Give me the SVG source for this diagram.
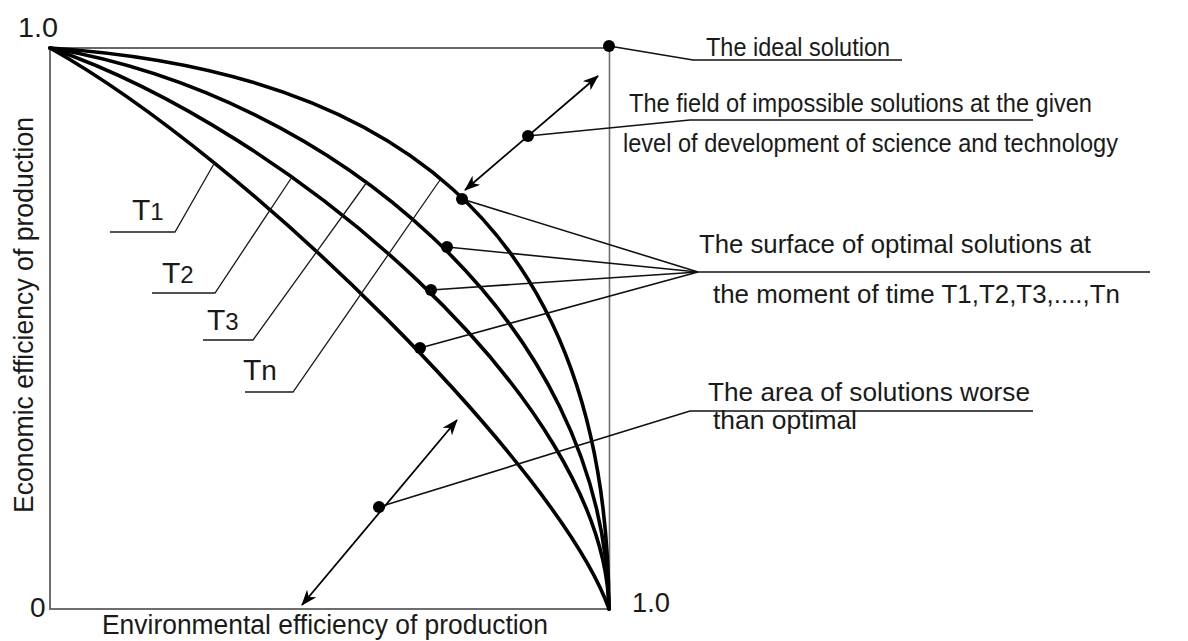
<svg xmlns="http://www.w3.org/2000/svg" width="1188" height="641" viewBox="0 0 1188 641">
  <style>
    text { font-family: "Liberation Sans", Arial, sans-serif; fill: #1a1a1a; }
    .lbl { font-size: 25px; }
    .lbl2 { font-size: 26px; }
    .axis { stroke: #6e6e6e; stroke-width: 2; fill: none; }
    .frame { stroke: #333; stroke-width: 1.3; fill: none; }
    .curve { stroke: #000; stroke-width: 3.6; fill: none; stroke-linecap: round; }
    .thin { stroke: #1a1a1a; stroke-width: 1.3; fill: none; }
    .lead { stroke: #111; stroke-width: 1.6; fill: none; }
    .arrow { stroke: #000; stroke-width: 1.8; fill: none; marker-start: url(#ah); marker-end: url(#ah); }
    .dot { fill: #000; }
    .tbig { font-size: 30px; }
    .tsub { font-size: 24px; }
  </style>
  <defs>
    <marker id="ah" viewBox="0 0 16 12" refX="15" refY="6" markerWidth="16" markerHeight="12" markerUnits="userSpaceOnUse" orient="auto-start-reverse">
      <path d="M0,0 L16,6 L0,12 L4.5,6 Z" fill="#000"/>
    </marker>
  </defs>
  <rect width="1188" height="641" fill="#fff"/>

  <g id="axes">
    <line class="axis" x1="50" y1="48" x2="50" y2="609"/>
    <line class="axis" x1="49" y1="609" x2="610" y2="609"/>
    <line class="frame" x1="50" y1="48" x2="609" y2="48"/>
    <line class="frame" x1="609.5" y1="46" x2="609.5" y2="609" style="stroke:#6e6e6e;stroke-width:1.6"/>
    <text x="18" y="37" style="font-size:27px" textLength="40" lengthAdjust="spacingAndGlyphs">1.0</text>
    <text x="30" y="617" style="font-size:28px">0</text>
    <text x="632" y="612" style="font-size:27px" textLength="38" lengthAdjust="spacingAndGlyphs">1.0</text>
    <text x="102" y="634" style="font-size:27px" textLength="446" lengthAdjust="spacingAndGlyphs">Environmental efficiency of production</text>
    <text transform="translate(33,513) rotate(-90)" style="font-size:27px" textLength="396" lengthAdjust="spacingAndGlyphs">Economic efficiency of production</text>
  </g>

  <g id="curves">
    <path id="curve-t1" class="curve" d="M50,48 C250,160 560,470 609,609"/>
    <path id="curve-t2" class="curve" d="M50,48 C290,130 605,400 609,609"/>
    <path id="curve-t3" class="curve" d="M50,48 C330,95 605,320 609,609"/>
    <path id="curve-tn" class="curve" d="M50,48 C380,70 607,215 609,609"/>
  </g>

  <g id="connectors">
    <polyline class="thin" points="215,162 175,232 110,232"/>
    <polyline class="thin" points="292,177 215,293 152,293"/>
    <polyline class="thin" points="367,182 253,340 203,340"/>
    <polyline class="thin" points="440,180 293,392 245,392"/>
    <polyline class="lead" points="609,46 693,60 902,60"/>
    <polyline class="lead" points="528,136 690,120 1033,120"/>
    <line class="arrow" x1="465" y1="190" x2="598" y2="76"/>
    <line class="lead" x1="462" y1="199" x2="698" y2="272"/>
    <line class="lead" x1="447" y1="247" x2="698" y2="272"/>
    <line class="lead" x1="431" y1="290" x2="698" y2="272"/>
    <line class="lead" x1="420" y1="348" x2="698" y2="272"/>
    <line class="lead" x1="698" y1="272" x2="1150" y2="272"/>
    <polyline class="lead" points="379,507 690,411 1033,411"/>
    <line class="arrow" x1="302" y1="605" x2="457" y2="420"/>
  </g>

  <g id="dots">
    <circle class="dot" cx="609" cy="46" r="6"/>
    <circle class="dot" cx="528" cy="136" r="6"/>
    <circle class="dot" cx="462" cy="199" r="6"/>
    <circle class="dot" cx="447" cy="247" r="6"/>
    <circle class="dot" cx="431" cy="290" r="6"/>
    <circle class="dot" cx="420" cy="348" r="6"/>
    <circle class="dot" cx="379" cy="507" r="6"/>
  </g>

  <g id="label-t1"><text x="132" y="220"><tspan class="tbig">T</tspan><tspan class="tsub">1</tspan></text></g>
  <g id="label-t2"><text x="162" y="283"><tspan class="tbig">T</tspan><tspan class="tsub">2</tspan></text></g>
  <g id="label-t3"><text x="207" y="330"><tspan class="tbig">T</tspan><tspan class="tsub">3</tspan></text></g>
  <g id="label-tn"><text x="243" y="380"><tspan class="tbig">T</tspan><tspan class="tsub" style="font-size:28px">n</tspan></text></g>

  <g id="ideal">
    <text class="lbl" x="706" y="56" textLength="184" lengthAdjust="spacingAndGlyphs">The ideal solution</text>
  </g>
  <g id="impossible">
    <text class="lbl" x="629" y="112" textLength="463" lengthAdjust="spacingAndGlyphs">The field of impossible solutions at the given</text>
    <text class="lbl" x="623" y="152" textLength="495" lengthAdjust="spacingAndGlyphs">level of development of science and technology</text>
  </g>
  <g id="optimal">
    <text class="lbl2" x="699" y="253" textLength="392" lengthAdjust="spacingAndGlyphs">The surface of optimal solutions at</text>
    <text class="lbl2" x="713" y="303" textLength="407" lengthAdjust="spacingAndGlyphs">the moment of time T1,T2,T3,....,Tn</text>
  </g>
  <g id="worse">
    <text class="lbl2" x="708" y="401" textLength="322" lengthAdjust="spacingAndGlyphs">The area of solutions worse</text>
    <text class="lbl2" x="713" y="429" textLength="144" lengthAdjust="spacingAndGlyphs">than optimal</text>
  </g>
</svg>
